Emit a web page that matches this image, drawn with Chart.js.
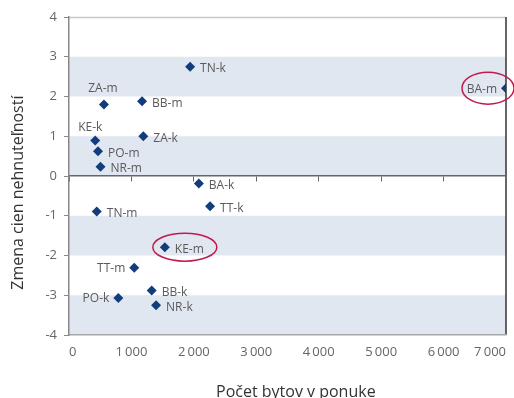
<!DOCTYPE html>
<html>
<head>
<meta charset="utf-8">
<script src="https://cdn.jsdelivr.net/npm/chart.js@4"></script>
<style>
  body { margin: 0; background: #fff; }
</style>
</head>
<body>
<canvas id="scatter" width="514" height="398"></canvas>
<script>
// regions (city -m / county -k), flats on offer, change of property prices
const regions = ['TN-k', 'ZA-m', 'BB-m', 'KE-k', 'ZA-k', 'PO-m', 'NR-m', 'BA-k', 'TT-k', 'TN-m', 'KE-m', 'TT-m', 'BB-k', 'PO-k', 'NR-k', 'BA-m'];
const flats = [1940, 560, 1170, 420, 1190, 465, 505, 2080, 2260, 445, 1535, 1045, 1325, 790, 1395, 7000];
const priceChange = [2.75, 1.8, 1.88, 0.89, 1.0, 0.62, 0.23, -0.19, -0.76, -0.89, -1.79, -2.31, -2.88, -3.07, -3.25, 2.21];
const xTicks = [0, 1000, 2000, 3000, 4000, 5000, 6000, 7000];
const yTicks = [-4, -3, -2, -1, 0, 1, 2, 3, 4];
const circled = ['KE-m', 'BA-m'];

const navy = '#123d7c';
const txt = '#5a5a5a';
const band = '#e1e7f0';

// where the label sits next to its point (default: right)
const labelSide = { 'ZA-m': 'above', 'KE-k': 'aboveLeft', 'BA-m': 'left', 'TT-m': 'left', 'PO-k': 'left' };

const fmtThousands = v => String(v).replace(/\B(?=(\d{3})+(?!\d))/g, '\u2009');

const bandsPlugin = {
  id: 'bands',
  beforeDraw(chart) {
    const {ctx, chartArea: a, scales: {y}} = chart;
    ctx.save();
    ctx.fillStyle = band;
    for (let v = -4; v < 4; v += 2) {
      const top = y.getPixelForValue(v + 1), bot = y.getPixelForValue(v);
      ctx.fillRect(a.left, top, a.right - a.left, bot - top);
    }
    // frame: light top, dark right
    ctx.strokeStyle = '#c8c8c8';
    ctx.lineWidth = 1.5;
    ctx.beginPath();
    ctx.moveTo(a.left, a.top + 0.5); ctx.lineTo(a.right, a.top + 0.5);
    ctx.stroke();
    ctx.strokeStyle = '#333';
    ctx.lineWidth = 1.5;
    ctx.beginPath();
    ctx.moveTo(a.right, a.top); ctx.lineTo(a.right, a.bottom);
    ctx.stroke();
    ctx.restore();
  }
};

const labelsPlugin = {
  id: 'pointLabels',
  afterDatasetsDraw(chart) {
    const {ctx} = chart;
    const pts = chart.getDatasetMeta(0).data;
    ctx.save();
    ctx.font = '12px "Open Sans"';
    ctx.fillStyle = txt;
    ctx.textBaseline = 'middle';
    pts.forEach((p, i) => {
      const name = regions[i];
      const side = labelSide[name] || 'right';
      if (side === 'right') {
        ctx.textAlign = 'left';
        ctx.fillText(name, p.x + 10, p.y + 2);
      } else if (side === 'left') {
        ctx.textAlign = 'right';
        ctx.fillText(name, p.x - 9, p.y + 1);
      } else if (side === 'above') {
        ctx.textAlign = 'center';
        ctx.fillText(name, p.x - 1, p.y - 16);
      } else {
        ctx.textAlign = 'center';
        ctx.fillText(name, p.x - 5, p.y - 13);
      }
      if (circled.includes(name)) {
        const dx = side === 'left' ? -18 : 20;
        const rx = side === 'left' ? 26 : 32;
        const ry = side === 'left' ? 16 : 14;
        ctx.strokeStyle = '#c21a4e';
        ctx.lineWidth = 1.5;
        ctx.beginPath();
        ctx.ellipse(p.x + dx, p.y, rx, ry, 0, 0, Math.PI * 2);
        ctx.stroke();
      }
    });
    ctx.restore();
  }
};

const ctxScatter = document.getElementById('scatter').getContext('2d');

const scatterChart = new Chart(ctxScatter, {
  type: 'scatter',
  data: {
    datasets: [{
      data: flats.map((f, i) => ({x: f, y: priceChange[i]})),
      pointStyle: 'rectRot',
      pointRadius: 5,
      pointHoverRadius: 5,
      backgroundColor: navy,
      borderColor: navy,
      borderWidth: 0
    }]
  },
  options: {
    responsive: false,
    animation: false,
    layout: { padding: { top: 17, right: 8, left: 0, bottom: 0 } },
    scales: {
      x: {
        type: 'linear',
        position: 'bottom',
        min: 0,
        max: 7000,
        afterBuildTicks: s => { s.ticks = xTicks.map(v => ({value: v})); },
        afterFit: s => { s.height = 63; s.paddingLeft = 0; s.paddingRight = 0; },
        grid: { display: false, drawTicks: false },
        border: { display: true, color: '#a8a8a8', width: 1.5 },
        ticks: {
          align: 'inner',
          padding: 9,
          color: '#666',
          font: { family: 'Open Sans', size: 13 },
          callback: v => fmtThousands(v)
        },
        title: {
          display: true,
          text: '    Počet bytov v ponuke',
          color: '#333',
          font: { family: 'Open Sans', size: 16 },
          padding: { top: 0, bottom: -4 }
        }
      },
      xZero: {
        type: 'linear',
        position: { y: 0 },
        min: 0,
        max: 7000,
        afterBuildTicks: s => { s.ticks = xTicks.map(v => ({value: v})); },
        grid: { drawOnChartArea: false, drawTicks: true, tickLength: 5, color: '#666' },
        border: { display: true, color: '#666', width: 1.5 },
        ticks: { display: false }
      },
      y: {
        type: 'linear',
        min: -4,
        max: 4,
        afterBuildTicks: s => { s.ticks = yTicks.map(v => ({value: v})); },
        afterFit: s => { s.width = 69; },
        grid: { drawOnChartArea: false, drawTicks: true, tickLength: 5, color: '#888' },
        border: { display: true, color: '#888', width: 1.5 },
        ticks: {
          padding: 7,
          color: '#666',
          font: { family: 'Open Sans', size: 13 }
        },
        title: {
          display: true,
          text: 'Zmena cien nehnuteľností        ',
          color: '#333',
          font: { family: 'Open Sans', size: 16 },
          padding: { top: 9, bottom: 0 }
        }
      }
    },
    plugins: {
      legend: { display: false },
      tooltip: { enabled: false }
    }
  },
  plugins: [bandsPlugin, labelsPlugin]
});
</script>
</body>
</html>
